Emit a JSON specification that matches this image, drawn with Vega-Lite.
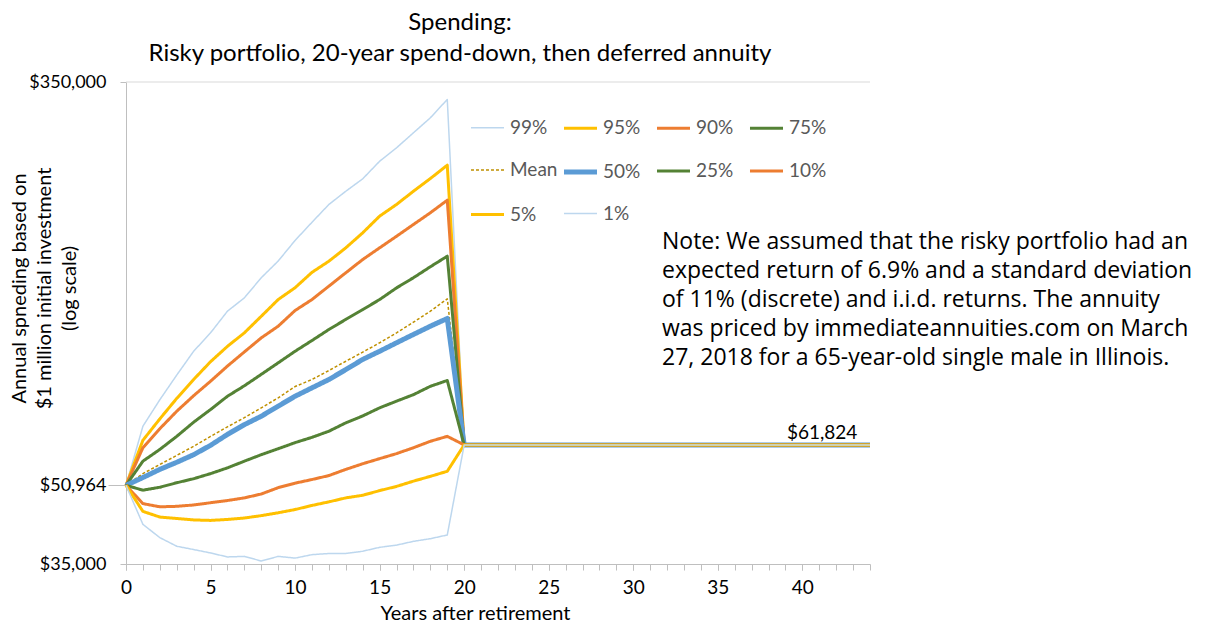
{
  "$schema": "https://vega.github.io/schema/vega-lite/v6.json",
  "width": 744,
  "height": 482,
  "autosize": {"type": "none"},
  "padding": {"left": 126, "top": 82, "right": 341, "bottom": 61},
  "background": "white",
  "config": {"view": {"stroke": null}, "font": "Lato"},
  "title": {
    "text": ["Spending:", "Risky portfolio, 20-year spend-down, then deferred annuity"],
    "font": "Lato",
    "fontSize": 24,
    "fontWeight": "normal",
    "color": "#000000",
    "anchor": "middle",
    "dx": -38,
    "lineHeight": 31,
    "offset": 7
  },
  "resolve": {"axis": {"x": "independent"}},
  "datasets": {
    "spend": [
      {"year": 0, "p99": 50964, "p95": 50964, "p90": 50964, "p75": 50964, "mean": 50964, "p50": 50964, "p25": 50964, "p10": 50964, "p5": 50964, "p1": 50964},
      {"year": 1, "p99": 67600, "p95": 63200, "p90": 61000, "p75": 57200, "mean": 53900, "p50": 52900, "p25": 49800, "p10": 46700, "p5": 45000, "p1": 42300},
      {"year": 2, "p99": 76700, "p95": 70000, "p90": 66800, "p75": 60500, "mean": 56300, "p50": 55000, "p25": 50500, "p10": 46000, "p5": 43800, "p1": 39700},
      {"year": 3, "p99": 86300, "p95": 77200, "p90": 72600, "p75": 64400, "mean": 58800, "p50": 56900, "p25": 51600, "p10": 46100, "p5": 43500, "p1": 38100},
      {"year": 4, "p99": 96700, "p95": 84500, "p90": 78200, "p75": 68900, "mean": 61400, "p50": 59000, "p25": 52600, "p10": 46400, "p5": 43200, "p1": 37500},
      {"year": 5, "p99": 105600, "p95": 92000, "p90": 83800, "p75": 73200, "mean": 64400, "p50": 61700, "p25": 53900, "p10": 46900, "p5": 43100, "p1": 36900},
      {"year": 6, "p99": 117100, "p95": 99000, "p90": 90100, "p75": 78000, "mean": 67400, "p50": 65000, "p25": 55400, "p10": 47400, "p5": 43300, "p1": 36200},
      {"year": 7, "p99": 124800, "p95": 105600, "p90": 96400, "p75": 82000, "mean": 70400, "p50": 68100, "p25": 57200, "p10": 48000, "p5": 43600, "p1": 36300},
      {"year": 8, "p99": 137400, "p95": 114300, "p90": 103100, "p75": 86600, "mean": 73800, "p50": 70900, "p25": 59000, "p10": 48900, "p5": 44100, "p1": 35500},
      {"year": 9, "p99": 148800, "p95": 123800, "p90": 109000, "p75": 91500, "mean": 77400, "p50": 74400, "p25": 60700, "p10": 50400, "p5": 44700, "p1": 36300},
      {"year": 10, "p99": 164200, "p95": 131000, "p90": 117500, "p75": 96700, "mean": 81700, "p50": 78000, "p25": 62500, "p10": 51500, "p5": 45400, "p1": 36000},
      {"year": 11, "p99": 179100, "p95": 141000, "p90": 123800, "p75": 101800, "mean": 84500, "p50": 81200, "p25": 64100, "p10": 52400, "p5": 46300, "p1": 36600},
      {"year": 12, "p99": 195000, "p95": 148700, "p90": 132000, "p75": 107300, "mean": 88200, "p50": 84500, "p25": 66000, "p10": 53400, "p5": 47100, "p1": 36800},
      {"year": 13, "p99": 207700, "p95": 158500, "p90": 140700, "p75": 112600, "mean": 92200, "p50": 88600, "p25": 68700, "p10": 55000, "p5": 48000, "p1": 36800},
      {"year": 14, "p99": 220400, "p95": 170300, "p90": 149900, "p75": 118000, "mean": 96300, "p50": 93000, "p25": 71000, "p10": 56500, "p5": 48600, "p1": 37200},
      {"year": 15, "p99": 239700, "p95": 184400, "p90": 158500, "p75": 123800, "mean": 100700, "p50": 96700, "p25": 73800, "p10": 57900, "p5": 49700, "p1": 37900},
      {"year": 16, "p99": 255600, "p95": 195000, "p90": 167500, "p75": 130900, "mean": 105600, "p50": 100700, "p25": 76200, "p10": 59300, "p5": 50700, "p1": 38300},
      {"year": 17, "p99": 274600, "p95": 207700, "p90": 177200, "p75": 137400, "mean": 111100, "p50": 104800, "p25": 78600, "p10": 61000, "p5": 52000, "p1": 39000},
      {"year": 18, "p99": 295000, "p95": 220700, "p90": 187400, "p75": 144800, "mean": 117100, "p50": 109000, "p25": 81800, "p10": 62900, "p5": 53200, "p1": 39500},
      {"year": 19, "p99": 322000, "p95": 235200, "p90": 199000, "p75": 152300, "mean": 124200, "p50": 113100, "p25": 84100, "p10": 64400, "p5": 54500, "p1": 40200},
      {"year": 20, "p99": 61824, "p95": 61824, "p90": 61824, "p75": 61824, "mean": 61824, "p50": 61824, "p25": 61824, "p10": 61824, "p5": 61824, "p1": 61824},
      {"year": 21, "p99": 61824, "p95": 61824, "p90": 61824, "p75": 61824, "mean": 61824, "p50": 61824, "p25": 61824, "p10": 61824, "p5": 61824, "p1": 61824},
      {"year": 22, "p99": 61824, "p95": 61824, "p90": 61824, "p75": 61824, "mean": 61824, "p50": 61824, "p25": 61824, "p10": 61824, "p5": 61824, "p1": 61824},
      {"year": 23, "p99": 61824, "p95": 61824, "p90": 61824, "p75": 61824, "mean": 61824, "p50": 61824, "p25": 61824, "p10": 61824, "p5": 61824, "p1": 61824},
      {"year": 24, "p99": 61824, "p95": 61824, "p90": 61824, "p75": 61824, "mean": 61824, "p50": 61824, "p25": 61824, "p10": 61824, "p5": 61824, "p1": 61824},
      {"year": 25, "p99": 61824, "p95": 61824, "p90": 61824, "p75": 61824, "mean": 61824, "p50": 61824, "p25": 61824, "p10": 61824, "p5": 61824, "p1": 61824},
      {"year": 26, "p99": 61824, "p95": 61824, "p90": 61824, "p75": 61824, "mean": 61824, "p50": 61824, "p25": 61824, "p10": 61824, "p5": 61824, "p1": 61824},
      {"year": 27, "p99": 61824, "p95": 61824, "p90": 61824, "p75": 61824, "mean": 61824, "p50": 61824, "p25": 61824, "p10": 61824, "p5": 61824, "p1": 61824},
      {"year": 28, "p99": 61824, "p95": 61824, "p90": 61824, "p75": 61824, "mean": 61824, "p50": 61824, "p25": 61824, "p10": 61824, "p5": 61824, "p1": 61824},
      {"year": 29, "p99": 61824, "p95": 61824, "p90": 61824, "p75": 61824, "mean": 61824, "p50": 61824, "p25": 61824, "p10": 61824, "p5": 61824, "p1": 61824},
      {"year": 30, "p99": 61824, "p95": 61824, "p90": 61824, "p75": 61824, "mean": 61824, "p50": 61824, "p25": 61824, "p10": 61824, "p5": 61824, "p1": 61824},
      {"year": 31, "p99": 61824, "p95": 61824, "p90": 61824, "p75": 61824, "mean": 61824, "p50": 61824, "p25": 61824, "p10": 61824, "p5": 61824, "p1": 61824},
      {"year": 32, "p99": 61824, "p95": 61824, "p90": 61824, "p75": 61824, "mean": 61824, "p50": 61824, "p25": 61824, "p10": 61824, "p5": 61824, "p1": 61824},
      {"year": 33, "p99": 61824, "p95": 61824, "p90": 61824, "p75": 61824, "mean": 61824, "p50": 61824, "p25": 61824, "p10": 61824, "p5": 61824, "p1": 61824},
      {"year": 34, "p99": 61824, "p95": 61824, "p90": 61824, "p75": 61824, "mean": 61824, "p50": 61824, "p25": 61824, "p10": 61824, "p5": 61824, "p1": 61824},
      {"year": 35, "p99": 61824, "p95": 61824, "p90": 61824, "p75": 61824, "mean": 61824, "p50": 61824, "p25": 61824, "p10": 61824, "p5": 61824, "p1": 61824},
      {"year": 36, "p99": 61824, "p95": 61824, "p90": 61824, "p75": 61824, "mean": 61824, "p50": 61824, "p25": 61824, "p10": 61824, "p5": 61824, "p1": 61824},
      {"year": 37, "p99": 61824, "p95": 61824, "p90": 61824, "p75": 61824, "mean": 61824, "p50": 61824, "p25": 61824, "p10": 61824, "p5": 61824, "p1": 61824},
      {"year": 38, "p99": 61824, "p95": 61824, "p90": 61824, "p75": 61824, "mean": 61824, "p50": 61824, "p25": 61824, "p10": 61824, "p5": 61824, "p1": 61824},
      {"year": 39, "p99": 61824, "p95": 61824, "p90": 61824, "p75": 61824, "mean": 61824, "p50": 61824, "p25": 61824, "p10": 61824, "p5": 61824, "p1": 61824},
      {"year": 40, "p99": 61824, "p95": 61824, "p90": 61824, "p75": 61824, "mean": 61824, "p50": 61824, "p25": 61824, "p10": 61824, "p5": 61824, "p1": 61824},
      {"year": 41, "p99": 61824, "p95": 61824, "p90": 61824, "p75": 61824, "mean": 61824, "p50": 61824, "p25": 61824, "p10": 61824, "p5": 61824, "p1": 61824},
      {"year": 42, "p99": 61824, "p95": 61824, "p90": 61824, "p75": 61824, "mean": 61824, "p50": 61824, "p25": 61824, "p10": 61824, "p5": 61824, "p1": 61824},
      {"year": 43, "p99": 61824, "p95": 61824, "p90": 61824, "p75": 61824, "mean": 61824, "p50": 61824, "p25": 61824, "p10": 61824, "p5": 61824, "p1": 61824},
      {"year": 44, "p99": 61824, "p95": 61824, "p90": 61824, "p75": 61824, "mean": 61824, "p50": 61824, "p25": 61824, "p10": 61824, "p5": 61824, "p1": 61824}
    ]
  },
  "layer": [
    {
      "data": {"values": [{"value": 350000}]},
      "mark": {"type": "rule", "color": "#D9D9D9", "strokeWidth": 1},
      "encoding": {
        "y": {"field": "value", "type": "quantitative"}
      }
    },
    {
      "data": {"name": "spend"},
      "transform": [
        {"fold": ["p99", "p95", "p90", "p75", "mean", "p50", "p25", "p10", "p5", "p1"], "as": ["key", "value"]},
        {"lookup": "key", "from": {"data": {"values": [
          {"key": "p99", "series": "99%"}, {"key": "p95", "series": "95%"}, {"key": "p90", "series": "90%"},
          {"key": "p75", "series": "75%"}, {"key": "mean", "series": "Mean"}, {"key": "p50", "series": "50%"},
          {"key": "p25", "series": "25%"}, {"key": "p10", "series": "10%"}, {"key": "p5", "series": "5%"},
          {"key": "p1", "series": "1%"}]}, "key": "key", "fields": ["series"]}}
      ],
      "mark": {"type": "line", "strokeJoin": "round"},
      "encoding": {
        "x": {
          "field": "year", "type": "quantitative",
          "scale": {"domain": [0, 44], "nice": false, "zero": false},
          "axis": {
            "orient": "bottom",
            "title": "Years after retirement",
            "values": [0, 5, 10, 15, 20, 25, 30, 35, 40],
            "labelOverlap": false,
            "labelBound": false,
            "grid": false,
            "domainColor": "#BFBFBF",
            "tickColor": "#BFBFBF",
            "tickSize": 6,
            "labelFont": "Lato",
            "labelFontSize": 19,
            "labelColor": "#000000",
            "labelPadding": 8,
            "labelFlush": false,
            "titleFont": "Lato",
            "titleFontSize": 20,
            "titleFontWeight": "normal",
            "titleColor": "#000000",
            "titlePadding": 6,
            "titleX": 349
          }
        },
        "y": {
          "field": "value", "type": "quantitative",
          "scale": {"type": "log", "domain": [35000, 350000], "nice": false},
          "axis": {
            "title": ["Annual spneding based on", "$1 million initial investment", "(log scale)"],
            "values": [35000, 50964, 350000],
            "format": "$,.0f",
            "grid": false,
            "domainColor": "#BFBFBF",
            "tickColor": "#BFBFBF",
            "tickSize": {"condition": {"test": "datum.value === 50964", "value": 18}, "value": 6},
            "labelPadding": {"condition": {"test": "datum.value === 50964", "value": 2}, "value": 14},
            "labelFont": "Lato",
            "labelFontSize": 18,
            "labelColor": "#000000",
            "labelFlush": false,
            "labelOverlap": false,
            "titleFont": "Lato",
            "titleFontSize": 20,
            "titleFontWeight": "normal",
            "titleColor": "#000000",
            "titleLineHeight": 25,
            "titleAngle": -90,
            "titleBaseline": "top",
            "titleAlign": "center",
            "titleX": -117,
            "titleY": 206
          }
        },
        "color": {
          "field": "series", "type": "nominal",
          "scale": {
            "domain": ["99%", "95%", "90%", "75%", "Mean", "50%", "25%", "10%", "5%", "1%"],
            "range": ["#BDD7EE", "#FFC000", "#ED7D31", "#548235", "#BF9000", "#5B9BD5", "#548235", "#ED7D31", "#FFC000", "#BDD7EE"]
          },
          "legend": {
            "title": null,
            "orient": "none",
            "legendX": 342,
            "legendY": 27,
            "direction": "horizontal",
            "columns": 4,
            "gridAlign": "all",
            "symbolType": "stroke",
            "symbolSize": 1090,
            "labelFont": "Lato",
            "labelFontSize": 19,
            "labelColor": "#595959",
            "labelOffset": 3,
            "columnPadding": -5,
            "rowPadding": 13.5,
            "padding": 0
          }
        },
        "strokeDash": {
          "field": "series", "type": "nominal",
          "scale": {
            "type": "ordinal",
            "domain": ["99%", "95%", "90%", "75%", "Mean", "50%", "25%", "10%", "5%", "1%"],
            "range": [[1, 0], [1, 0], [1, 0], [1, 0], [3, 2], [1, 0], [1, 0], [1, 0], [1, 0], [1, 0]]
          },
          "legend": null
        },
        "strokeWidth": {
          "field": "series", "type": "nominal",
          "scale": {
            "type": "ordinal",
            "domain": ["99%", "95%", "90%", "75%", "Mean", "50%", "25%", "10%", "5%", "1%"],
            "range": [1.5, 3, 3, 3, 1.5, 5, 3, 3, 3, 1.5]
          },
          "legend": null
        }
      }
    },
    {
      "data": {"values": [{"value": 61824}]},
      "mark": {"type": "text", "align": "right", "baseline": "middle", "dy": -12, "font": "Lato", "fontSize": 19, "color": "#000000"},
      "encoding": {
        "x": {
          "datum": 43.25, "type": "quantitative",
          "axis": {
            "orient": "bottom",
            "title": null,
            "values": [0,1,2,3,4,5,6,7,8,9,10,11,12,13,14,15,16,17,18,19,20,21,22,23,24,25,26,27,28,29,30,31,32,33,34,35,36,37,38,39,40,41,42,43,44],
            "labels": false,
            "grid": false,
            "domain": false,
            "tickColor": "#BFBFBF",
            "tickSize": 6
          }
        },
        "y": {"field": "value", "type": "quantitative"},
        "text": {"field": "value", "type": "quantitative", "format": "$,.0f"}
      }
    },
    {
      "data": {"values": [{"note": ["Note: We assumed that the risky portfolio had an", "expected return of 6.9% and a standard deviation", "of 11% (discrete) and i.i.d. returns. The annuity", "was priced by immediateannuities.com on March", "27, 2018 for a 65-year-old single male in Illinois."]}]},
      "mark": {"type": "text", "align": "left", "baseline": "middle", "font": "Open Sans", "fontSize": 23, "lineHeight": 29, "color": "#000000"},
      "encoding": {
        "x": {"datum": 31.7, "type": "quantitative", "axis": null},
        "y": {"datum": 162600, "type": "quantitative"},
        "text": {"field": "note"}
      }
    }
  ]
}
